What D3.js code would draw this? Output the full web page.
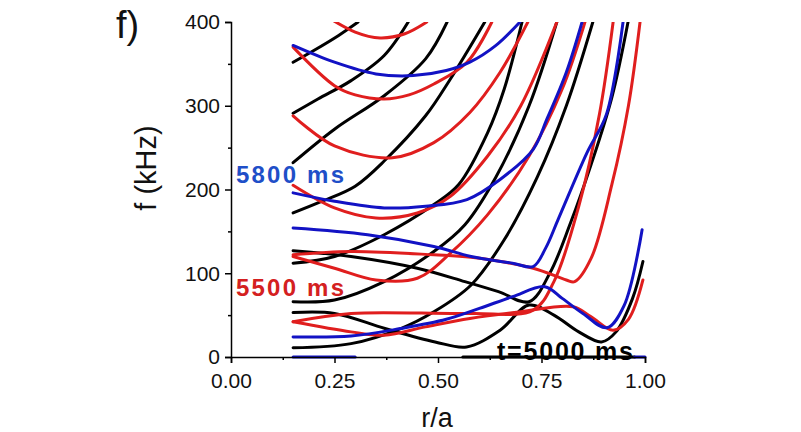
<!DOCTYPE html>
<html>
<head>
<meta charset="utf-8">
<script src="https://cdn.jsdelivr.net/npm/d3@7"></script>
<style>
  body { margin: 0; background: #fff; }
  text { font-family: "Liberation Sans", Arial, sans-serif; }
</style>
</head>
<body>
<script>
// ---- data: [r/a, f (kHz)] ----
var xTicks = [0, 0.25, 0.5, 0.75, 1]
var yTicks = [0, 100, 200, 300, 400]

// t = 5000 ms (black)
var blackCurves = [
    [[0.15,352],[0.20,366],[0.26,384],[0.307,400]],
    [[0.15,291],[0.21,308],[0.29,330],[0.37,360],[0.428,400]],
    [[0.15,232],[0.25,272],[0.37,312],[0.47,356],[0.522,400]],
    [[0.15,172],[0.22,186],[0.30,204],[0.37,234],[0.47,288],[0.53,332],[0.613,400]],
    [[0.15,112],[0.25,120],[0.37,146],[0.49,182],[0.55,206],[0.62,268],[0.66,320],[0.703,400]],
    [[0.15,66],[0.25,68],[0.37,90],[0.49,126],[0.565,158],[0.64,215],[0.72,300],[0.787,400]],
    [[0.15,11],[0.29,16],[0.41,34],[0.49,54],[0.58,86],[0.66,140],[0.74,215],[0.81,300],[0.874,400]],
    [[0.15,127],[0.29,120],[0.45,106],[0.565,90],[0.646,78],[0.72,66],[0.77,100],[0.82,160],[0.87,230],[0.92,310],[0.959,400]],
    [[0.15,53],[0.25,52],[0.372,34],[0.493,18],[0.569,12],[0.65,32],[0.72,62],[0.78,50],[0.84,30],[0.895,18],[0.93,30],[0.97,70],[0.995,114]],
    [[0.56,0],[0.975,0]]
]

// t = 5500 ms (red)
var redCurves = [
    [[0.22,410],[0.30,388],[0.36,381],[0.42,386],[0.473,400]],
    [[0.15,370],[0.25,324],[0.30,313],[0.37,308],[0.43,313],[0.49,326],[0.57,352],[0.63,400]],
    [[0.15,288],[0.25,252],[0.39,238],[0.49,256],[0.577,292],[0.65,340],[0.717,400]],
    [[0.15,205],[0.25,178],[0.35,166],[0.45,172],[0.53,192],[0.62,240],[0.70,300],[0.787,400]],
    [[0.15,120],[0.25,106],[0.35,92],[0.45,94],[0.53,124],[0.62,170],[0.72,240],[0.80,320],[0.855,400]],
    [[0.15,122],[0.29,126],[0.49,122],[0.58,119],[0.73,106],[0.81,92],[0.83,90],[0.87,118],[0.92,206],[0.96,300],[0.988,400]],
    [[0.15,42],[0.29,52],[0.58,52],[0.73,56],[0.78,90],[0.84,180],[0.89,290],[0.923,400]],
    [[0.15,42],[0.29,30],[0.37,26],[0.47,36],[0.577,46],[0.70,54],[0.826,60],[0.87,48],[0.923,32],[0.96,45],[0.995,92]]
]

// t = 5800 ms (blue)
var blueCurves = [
    [[0.15,372],[0.25,352],[0.35,338],[0.44,336],[0.52,342],[0.577,352],[0.64,372],[0.698,400]],
    [[0.15,196],[0.25,186],[0.37,178],[0.47,180],[0.57,188],[0.65,212],[0.73,248],[0.763,284],[0.81,340],[0.848,400]],
    [[0.15,154],[0.33,146],[0.49,132],[0.58,120],[0.68,112],[0.73,108],[0.76,130],[0.79,164],[0.86,244],[0.907,290],[0.947,400]],
    [[0.15,24],[0.29,25],[0.41,34],[0.52,45],[0.60,58],[0.68,72],[0.758,84],[0.80,70],[0.85,52],[0.908,35],[0.95,62],[0.993,152]],
    [[0.15,0],[0.30,0]],
    [[0.975,0],[1.0,0]]
]

var series = [
    {color: "#000000", curves: blackCurves},
    {color: "#e01e1e", curves: redCurves},
    {color: "#1212c4", curves: blueCurves}
]

// ---- layout ----
var width = 801, height = 432
var x = d3.scaleLinear().domain([0, 1]).range([231, 645])
var y = d3.scaleLinear().domain([0, 400]).range([357, 22])

var svg = d3.select("body").append("svg")
    .attr("width", width)
    .attr("height", height)

svg.append("clipPath").attr("id", "plotclip")
    .append("rect")
    .attr("x", x(0)).attr("y", y(400))
    .attr("width", x(1) - x(0) + 2)
    .attr("height", y(0) - y(400) + 2)

var line = d3.line()
    .x(d => x(d[0]))
    .y(d => y(d[1]))
    .curve(d3.curveCatmullRom.alpha(0.5))

var plot = svg.append("g").attr("clip-path", "url(#plotclip)")

series.forEach(function(s) {
    plot.append("g")
        .selectAll("path")
        .data(s.curves)
        .enter().append("path")
        .attr("d", line)
        .attr("fill", "none")
        .attr("stroke", s.color)
        .attr("stroke-width", 3)
        .attr("stroke-linecap", "round")
})

// ---- axes ----
var xAxis = svg.append("g")
    .attr("transform", "translate(0," + y(0) + ")")
    .call(d3.axisBottom(x).tickValues(xTicks).tickFormat(d3.format(".2f")).tickSize(6))
var xMinor = svg.append("g")
    .attr("transform", "translate(0," + y(0) + ")")
    .call(d3.axisBottom(x).tickValues([0.125, 0.375, 0.625, 0.875]).tickFormat("").tickSize(3))

var yAxis = svg.append("g")
    .attr("transform", "translate(" + x(0) + ",0)")
    .call(d3.axisLeft(y).tickValues(yTicks).tickSize(6))
var yMinor = svg.append("g")
    .attr("transform", "translate(" + x(0) + ",0)")
    .call(d3.axisLeft(y).tickValues([50, 150, 250, 350]).tickFormat("").tickSize(3))

svg.selectAll(".domain").attr("stroke", "#000").attr("stroke-width", 1.5)
svg.selectAll(".tick line").attr("stroke", "#000").attr("stroke-width", 1.5)
xAxis.selectAll("text").attr("font-size", "21px").attr("font-family", "Liberation Sans")
    .attr("y", 0).attr("dy", null).attr("transform", "translate(0,31)").attr("fill", "#111")
yAxis.selectAll("text").attr("font-size", "21px").attr("font-family", "Liberation Sans")
    .attr("dy", "0.33em").attr("x", -11).attr("fill", "#111")
xMinor.select(".domain").remove()
yMinor.select(".domain").remove()

// ---- labels ----
svg.append("text")
    .attr("x", 437).attr("y", 427)
    .attr("text-anchor", "middle")
    .attr("font-size", "27px")
    .attr("fill", "#111")
    .text("r/a")

svg.append("text")
    .attr("transform", "translate(156,168) rotate(-90)")
    .attr("text-anchor", "middle")
    .attr("font-size", "29px")
    .attr("fill", "#111")
    .text("f (kHz)")

svg.append("text")
    .attr("x", 116).attr("y", 38)
    .attr("font-size", "38px")
    .attr("fill", "#111")
    .text("f)")

svg.append("text")
    .attr("x", 236).attr("y", 183)
    .attr("font-size", "24px")
    .attr("font-weight", "bold")
    .attr("fill", "#1f4fc8")
    .attr("textLength", 108)
    .text("5800 ms")

svg.append("text")
    .attr("x", 236).attr("y", 296)
    .attr("font-size", "24px")
    .attr("font-weight", "bold")
    .attr("fill", "#d42020")
    .attr("textLength", 108)
    .text("5500 ms")

svg.append("text")
    .attr("x", 497).attr("y", 360)
    .attr("font-size", "25px")
    .attr("font-weight", "bold")
    .attr("fill", "#000")
    .attr("textLength", 136)
    .text("t=5000 ms")
</script>
</body>
</html>
